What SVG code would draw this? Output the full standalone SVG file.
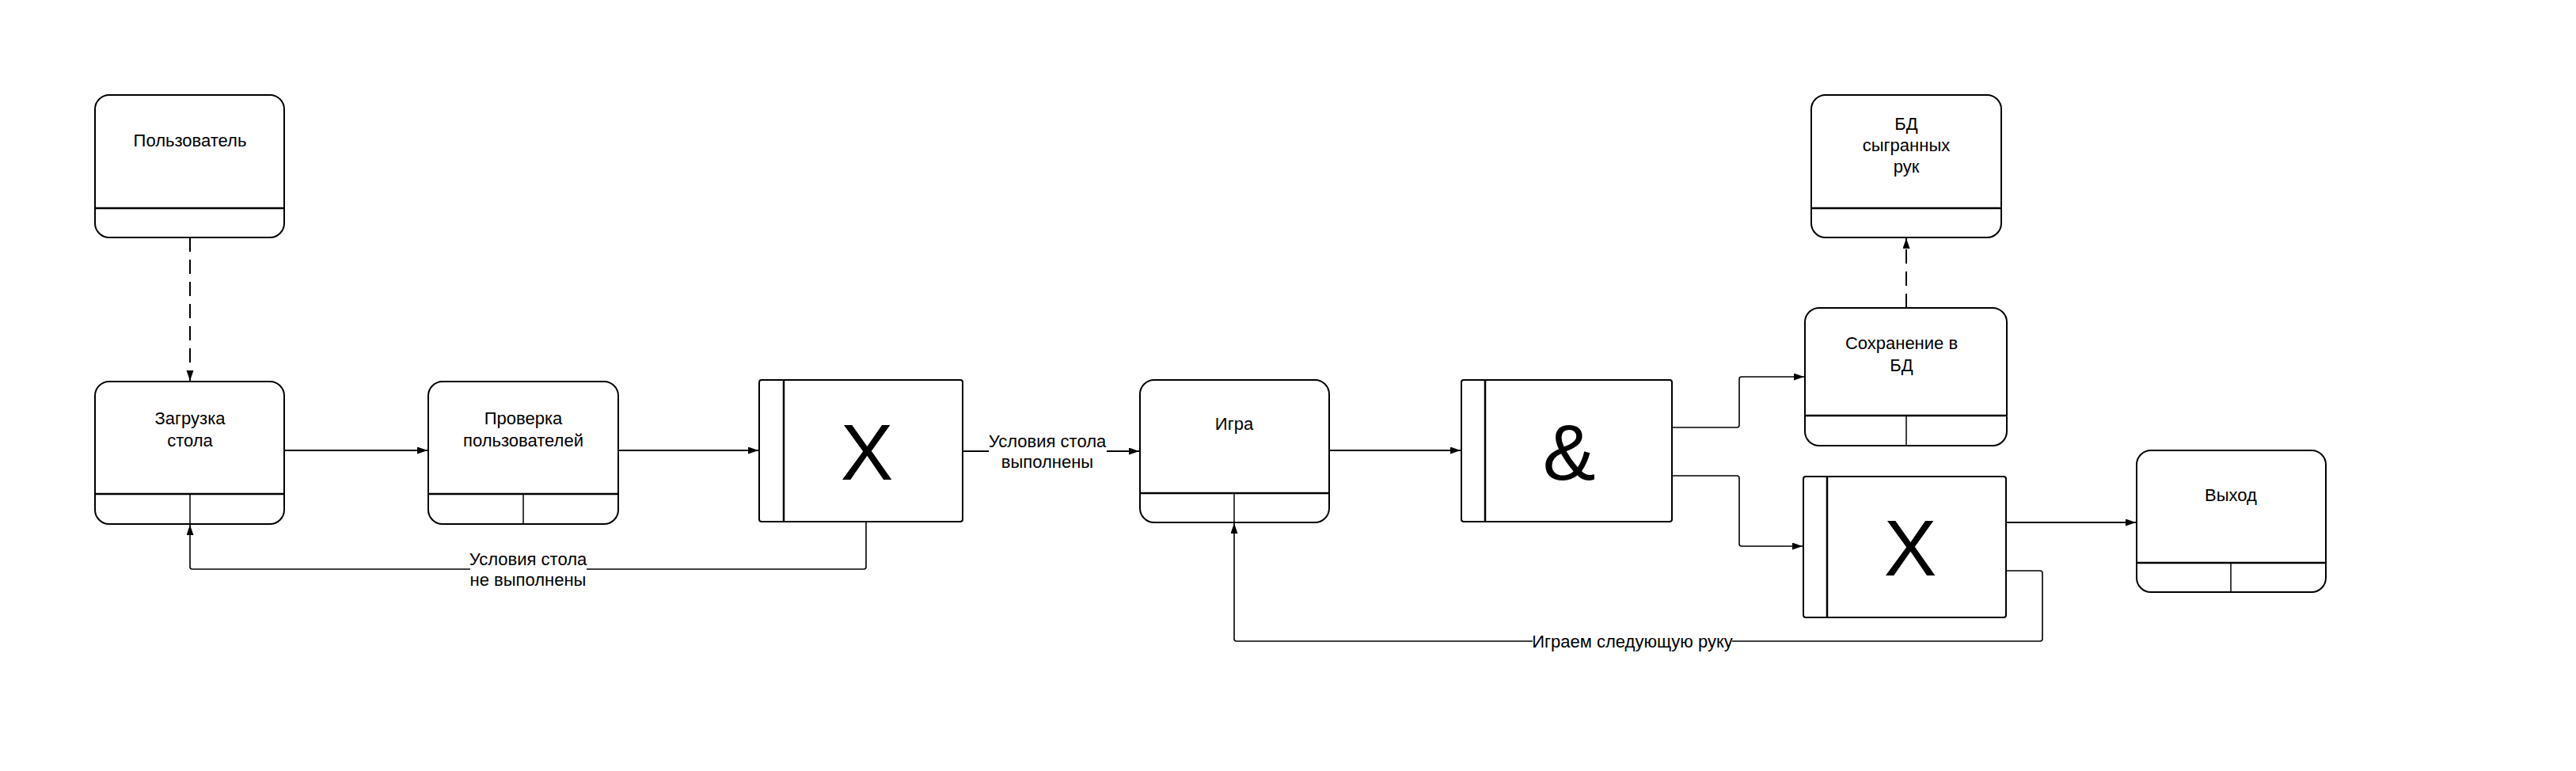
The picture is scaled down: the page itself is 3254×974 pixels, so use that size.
<svg xmlns="http://www.w3.org/2000/svg" width="3254" height="974" viewBox="0 0 3254 974">
<style>
.box{fill:#fff;stroke:#000;stroke-width:2}
.div{stroke:#000;stroke-width:2.5;fill:none}
.sub{stroke:#000;stroke-width:1.5;fill:none}
.lbl{font-family:"Liberation Sans",Arial,sans-serif;font-size:22px;fill:#000;text-anchor:middle}
.big{font-family:"Liberation Sans",Arial,sans-serif;font-size:100px;fill:#000;text-anchor:middle}
.con{fill:none;stroke:#000;stroke-width:2}
.thin{fill:none;stroke:#000;stroke-width:1.6}
.dash{fill:none;stroke:#000;stroke-width:2;stroke-dasharray:18 10}
</style>
<defs>
<marker id="arr" markerUnits="userSpaceOnUse" markerWidth="14" markerHeight="10" refX="13" refY="4.5" orient="auto">
<path d="M0,0 L13,4.5 L0,9 z" fill="#000"/>
</marker>
</defs>
<rect width="3254" height="974" fill="#fff"/>

<g id="connectors">
<path class="dash" d="M240,300 L240,481" marker-end="url(#arr)"/>
<path class="con" d="M359,569 L540,569" marker-end="url(#arr)"/>
<path class="con" d="M781,569 L958,569" marker-end="url(#arr)"/>
<path class="con" d="M1216,570 L1249,570"/>
<path class="con" d="M1398,570 L1439,570" marker-end="url(#arr)"/>
<text class="lbl" x="1323" y="565">Условия стола</text>
<text class="lbl" x="1323" y="591">выполнены</text>
<path class="thin" d="M1094,659 L1094,716 Q1094,719 1091,719 L741,719"/>
<path class="thin" d="M594,719 L243,719 Q240,719 240,716 L240,663" marker-end="url(#arr)"/>
<text class="lbl" x="667" y="714">Условия стола</text>
<text class="lbl" x="667" y="740">не выполнены</text>
<path class="con" d="M1679,569 L1845,569" marker-end="url(#arr)"/>
<path class="thin" d="M2112,540 L2194,540 Q2197,540 2197,537 L2197,479 Q2197,476 2200,476 L2279,476" marker-end="url(#arr)"/>
<path class="thin" d="M2112,601 L2194,601 Q2197,601 2197,604 L2197,687 Q2197,690 2200,690 L2277,690" marker-end="url(#arr)"/>
<path class="dash" d="M2408,389 L2408,301" marker-end="url(#arr)"/>
<path class="con" d="M2534,660 L2698,660" marker-end="url(#arr)"/>
<path class="thin" d="M2534,721 L2577,721 Q2580,721 2580,724 L2580,807 Q2580,810 2577,810 L2188,810"/>
<path class="thin" d="M1936,810 L1562,810 Q1559,810 1559,807 L1559,661" marker-end="url(#arr)"/>
<text class="lbl" x="2062" y="818">Играем следующую руку</text>
</g>

<g id="node-user">
<rect class="box" x="120" y="120" width="239" height="180" rx="18"/>
<path class="div" d="M120,263 L359,263"/>
<text class="lbl" x="240" y="185">Пользователь</text>
</g>

<g id="node-load">
<rect class="box" x="120" y="482" width="239" height="180" rx="18"/>
<path class="div" d="M120,624 L359,624"/>
<path class="sub" d="M240,624 L240,662"/>
<text class="lbl" x="240" y="536">Загрузка</text>
<text class="lbl" x="240" y="564">стола</text>
</g>

<g id="node-check">
<rect class="box" x="541" y="482" width="240" height="180" rx="18"/>
<path class="div" d="M541,624 L781,624"/>
<path class="sub" d="M661,624 L661,662"/>
<text class="lbl" x="661" y="536">Проверка</text>
<text class="lbl" x="661" y="564">пользователей</text>
</g>

<g id="node-x1">
<rect class="box" x="959" y="480" width="257" height="179" rx="3"/>
<path class="div" d="M990,480 L990,659"/>
<text class="big" x="1095" y="606">X</text>
</g>

<g id="node-game">
<rect class="box" x="1440" y="480" width="239" height="180" rx="18"/>
<path class="div" d="M1440,623 L1679,623"/>
<path class="sub" d="M1559,623 L1559,660"/>
<text class="lbl" x="1559" y="543">Игра</text>
</g>

<g id="node-and">
<rect class="box" x="1846" y="480" width="266" height="179" rx="3"/>
<path class="div" d="M1876,480 L1876,659"/>
<text class="big" x="1982" y="606">&amp;</text>
</g>

<g id="node-db">
<rect class="box" x="2288" y="120" width="240" height="180" rx="18"/>
<path class="div" d="M2288,263 L2528,263"/>
<text class="lbl" x="2408" y="164">БД</text>
<text class="lbl" x="2408" y="191">сыгранных</text>
<text class="lbl" x="2408" y="218">рук</text>
</g>

<g id="node-save">
<rect class="box" x="2280" y="389" width="255" height="174" rx="18"/>
<path class="div" d="M2280,525 L2535,525"/>
<path class="sub" d="M2408,525 L2408,563"/>
<text class="lbl" x="2402" y="441">Сохранение в</text>
<text class="lbl" x="2402" y="469">БД</text>
</g>

<g id="node-x2">
<rect class="box" x="2278" y="602" width="256" height="178" rx="3"/>
<path class="div" d="M2308,602 L2308,780"/>
<text class="big" x="2413" y="727">X</text>
</g>

<g id="node-exit">
<rect class="box" x="2699" y="569" width="239" height="179" rx="18"/>
<path class="div" d="M2699,711 L2938,711"/>
<path class="sub" d="M2818,711 L2818,748"/>
<text class="lbl" x="2818" y="633">Выход</text>
</g>
</svg>
